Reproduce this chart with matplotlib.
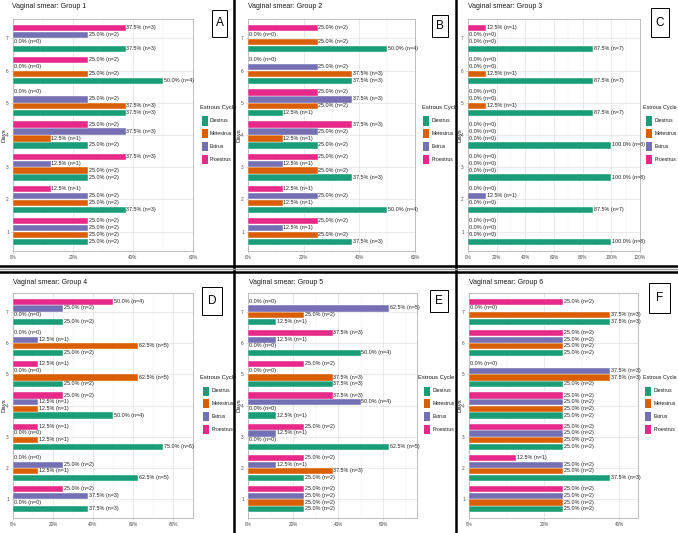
import matplotlib
matplotlib.use("Agg")
import matplotlib.pyplot as plt
from matplotlib.patches import Rectangle
from matplotlib.lines import Line2D
import numpy as np

plt.rcParams['font.family'] = ['Liberation Sans Narrow', 'Liberation Sans', 'DejaVu Sans']

W, H = 678, 533

days = [1, 2, 3, 4, 5, 6, 7]
stages = ["Diestrus", "Metestrus", "Estrus", "Proestrus"]
colors = ["#1B9E77", "#D95F02", "#7570B3", "#E7298A"]
n_total = 8

# counts per day (days 1..7) for Diestrus, Metestrus, Estrus, Proestrus
g1_counts = [[2, 3, 2, 2, 3, 4, 3],
             [2, 2, 2, 1, 3, 2, 0],
             [2, 2, 1, 3, 2, 0, 2],
             [2, 1, 3, 2, 0, 2, 3]]
g2_counts = [[3, 4, 3, 2, 1, 3, 4],
             [2, 1, 2, 1, 2, 3, 2],
             [1, 2, 1, 2, 3, 2, 0],
             [2, 1, 2, 3, 2, 0, 2]]
g3_counts = [[8, 7, 8, 8, 7, 7, 7],
             [0, 0, 0, 0, 1, 1, 0],
             [0, 1, 0, 0, 0, 0, 0],
             [0, 0, 0, 0, 0, 0, 1]]
g4_counts = [[3, 5, 6, 4, 2, 2, 2],
             [0, 1, 1, 1, 5, 5, 0],
             [3, 2, 0, 1, 0, 1, 2],
             [2, 0, 1, 2, 1, 0, 4]]
g5_counts = [[2, 2, 5, 1, 3, 4, 1],
             [2, 3, 0, 0, 3, 0, 2],
             [2, 1, 1, 4, 0, 1, 5],
             [2, 2, 2, 3, 2, 3, 0]]
g6_counts = [[2, 3, 2, 2, 2, 2, 3],
             [2, 2, 2, 2, 3, 2, 3],
             [2, 2, 2, 2, 3, 2, 0],
             [2, 1, 2, 2, 0, 2, 2]]

titles = ["Vaginal smear: Group 1", "Vaginal smear: Group 2", "Vaginal smear: Group 3",
          "Vaginal smear: Group 4", "Vaginal smear: Group 5", "Vaginal smear: Group 6"]
letters = ["A", "B", "C", "D", "E", "F"]
x_max_pct = [60, 60, 120, 90, 75, 45]
all_counts = [g1_counts, g2_counts, g3_counts, g4_counts, g5_counts, g6_counts]

plot_boxes = [(13, 193, 19, 251), (248, 415, 19, 251), (468, 640, 19, 251),
              (13, 193, 293, 518), (248, 417, 293, 518), (469, 638, 293, 518)]
title_pos = [(12, 7), (248, 6), (468, 7), (13, 282), (249, 283), (469, 282)]
days_x = [4, 239, 460, 4, 239, 460]
letter_boxes = [(212, 227, 10, 37), (432, 448, 15, 37), (651, 669, 8, 37),
                (202, 222, 287, 315), (430, 448, 290, 312), (649, 670, 283, 313)]
legend_pos = [(200, 108, 202, 210), (422, 108, 423, 432), (643, 108, 646, 655),
              (200, 378, 203, 212), (418, 378, 424, 433), (643, 378, 645, 654)]
legend_title_size = [4.2, 4.2, 3.9, 4.2, 4.2, 3.9]

fig = plt.figure(figsize=(W / 100, H / 100), dpi=100)
fig.patch.set_facecolor("white")


def fx(x):
    return x / W


def fy(y):
    return 1 - y / H


offsets = [-0.3225, -0.1075, 0.1075, 0.3225]
bar_h = 0.2

for k in range(6):
    l, r, t, b = plot_boxes[k]
    ax = fig.add_axes([fx(l), fy(b), (r - l) / W, (b - t) / H])
    counts = all_counts[k]
    xm = x_max_pct[k]
    for s in range(4):
        vals = [c / n_total * 100 for c in counts[s]]
        ypos = [d + offsets[s] for d in days]
        ax.barh(ypos, vals, height=bar_h, color=colors[s], edgecolor="white",
                linewidth=0.3, zorder=3)
        for v, c, yp in zip(vals, counts[s], ypos):
            ax.annotate(f"{v:.1f}% (n={c})", (v, yp), xytext=(0.5, 0.3),
                        textcoords="offset points", fontsize=3.9, va="center",
                        ha="left", color="#222222", zorder=4, annotation_clip=False)
    ax.set_xlim(0, xm)
    ax.set_ylim(0.4, 7.6)
    ticks = np.arange(0, xm + 0.1, 20)
    ax.set_xticks(ticks)
    ax.set_xticklabels([f"{int(tk)}%" for tk in ticks])
    ax.set_xticks(np.arange(10, xm, 20), minor=True)
    ax.set_yticks(days)
    ax.set_yticklabels([str(d) for d in days])
    ax.tick_params(axis="both", which="major", labelsize=3.4, length=1.5, width=0.4,
                   colors="#B3B3B3", labelcolor="#4D4D4D", pad=1.5)
    ax.tick_params(axis="both", which="minor", length=0)
    ax.grid(True, which="major", color="#DEDEDE", linewidth=0.45, zorder=0)
    ax.grid(True, which="minor", axis="x", color="#F0F0F0", linewidth=0.3, zorder=0)
    ax.set_axisbelow(True)
    for sp in ax.spines.values():
        sp.set_color("#B3B3B3")
        sp.set_linewidth(0.6)

    tx, ty = title_pos[k]
    fig.text(fx(tx), fy(ty), titles[k], fontsize=5.0, color="#1A1A1A",
             ha="left", va="center")
    fig.text(fx(days_x[k]), fy((t + b) / 2), "Days", fontsize=4.3, rotation=90,
             ha="center", va="center", color="#1A1A1A")
    bl, br, bt, bb = letter_boxes[k]
    fig.add_artist(Rectangle((fx(bl), fy(bb)), (br - bl) / W, (bb - bt) / H,
                             transform=fig.transFigure, facecolor="white",
                             edgecolor="black", linewidth=0.7))
    fig.text(fx((bl + br) / 2), fy((bt + bb) / 2), letters[k], fontsize=8.5,
             ha="center", va="center", color="black")
    ltx, lty, kx, lbx = legend_pos[k]
    fig.text(fx(ltx), fy(lty), "Estrous Cycle", fontsize=legend_title_size[k],
             ha="left", va="center", color="#1A1A1A")
    for s in range(4):
        cy = lty + 13 + s * 12.8
        fig.add_artist(Rectangle((fx(kx), fy(cy + 4.5)), 6 / W, 9 / H,
                                 transform=fig.transFigure, facecolor=colors[s],
                                 edgecolor="none"))
        fig.text(fx(lbx), fy(cy), stages[s], fontsize=3.6, ha="left",
                 va="center", color="#1A1A1A")

for xv in (234, 456):
    fig.add_artist(Line2D([fx(xv), fx(xv)], [0, 1], transform=fig.transFigure,
                          color="black", linewidth=1.8))
fig.add_artist(Line2D([0, 1], [fy(269), fy(269)], transform=fig.transFigure,
                      color="#9A9A9A", linewidth=1.0))
for yv in (266.3, 271.7):
    fig.add_artist(Line2D([0, 1], [fy(yv), fy(yv)], transform=fig.transFigure,
                          color="black", linewidth=1.8))

fig.savefig("out.png", dpi=100, facecolor="white")
